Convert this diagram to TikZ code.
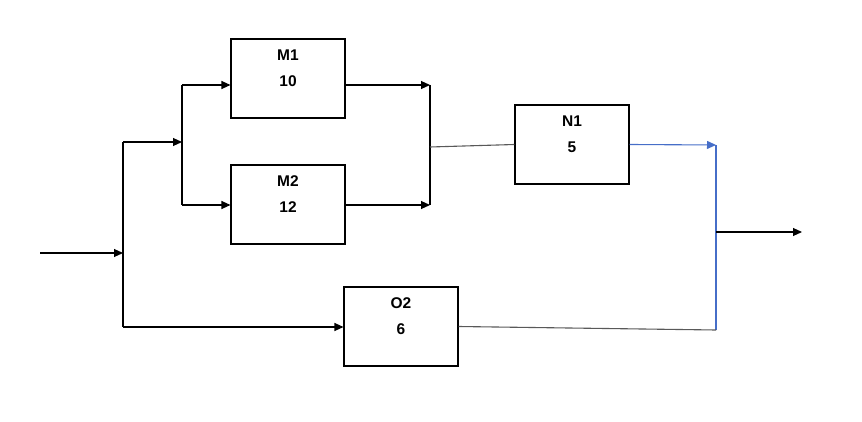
\documentclass[tikz,border=0pt]{standalone}
\usepackage{fontspec}
\setmainfont{Liberation Sans}
\usetikzlibrary{arrows.meta}
\begin{document}
\begin{tikzpicture}[x=1pt,y=-1pt,
  box/.style={draw,line width=1.1pt,minimum width=114pt,minimum height=79pt,inner sep=0pt,align=center,font=\fontsize{15.5}{26}\selectfont\bfseries},
  ln/.style={line width=1.1pt,black},
  ar/.style={ln,-{Triangle[length=9pt,width=8pt]}},
  gr/.style={line width=1.1pt,gray!70!black},
  bl/.style={line width=1.1pt,color={rgb,255:red,70;green,110;blue,200}}]
\useasboundingbox (0,0) rectangle (862,422);
\node[box] (m1) at (288,78.5) {M1\\10\\[-6pt]\mbox{}};
\node[box] (m2) at (288,204.5) {M2\\12\\[-6pt]\mbox{}};
\node[box] (n1) at (572,144.5) {N1\\5\\[-6pt]\mbox{}};
\node[box] (o2) at (401,326.5) {O2\\6\\[-6pt]\mbox{}};
\coordinate (in) at (40,253);
\coordinate (s1) at (123,253);
\coordinate (s1t) at (123,142);
\coordinate (s1b) at (123,327);
\coordinate (s2) at (182,142);
\coordinate (s2t) at (182,85);
\coordinate (s2b) at (182,205);
\coordinate (j1t) at (430,85);
\coordinate (j1b) at (430,205);
\coordinate (j1) at (430,147);
\coordinate (j2t) at (716,145);
\coordinate (j2b) at (716,330);
\coordinate (j2) at (716,232);
\coordinate (out) at (802,232);
\draw[ar] (in) -- (s1);
\draw[ln] (s1t) -- (s1b);
\draw[ar] (s1t) -- (s2);
\draw[ln] (s2t) -- (s2b);
\draw[ar] (s2t) -- (s2t -| m1.west);
\draw[ar] (s2b) -- (s2b -| m2.west);
\draw[ar] (s1b) -- (s1b -| o2.west);
\draw[ar] (j1t -| m1.east) -- (j1t);
\draw[ar] (j1b -| m2.east) -- (j1b);
\draw[ln] (j1t) -- (j1b);
\draw[gr] (j1) -- (n1.west);
\draw[bl,-{Triangle[length=9pt,width=8pt]}] (n1.east) -- (j2t);
\draw[bl] (j2t) -- (j2b);
\draw[gr] (o2.east) -- (j2b);
\draw[ar] (j2) -- (out);
\end{tikzpicture}
\end{document}
